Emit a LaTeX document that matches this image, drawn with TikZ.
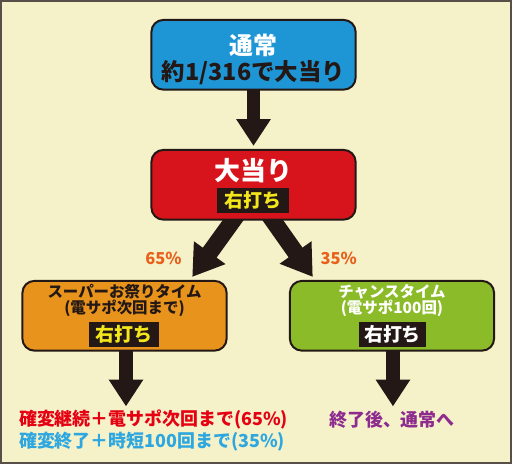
\documentclass[tikz,border=0pt]{standalone}
\usepackage{fontspec}
\setmainfont{Noto Sans CJK JP}
\usepackage{xcolor}
\usetikzlibrary{arrows.meta,positioning,shapes,calc}

\definecolor{bgcream}{HTML}{F5F2C9}
\definecolor{framegray}{HTML}{5A4E48}
\definecolor{inkdark}{HTML}{231815}
\definecolor{tsujoblue}{HTML}{1E96D5}
\definecolor{atarired}{HTML}{D7141B}
\definecolor{matsuriorange}{HTML}{E8931B}
\definecolor{chancegreen}{HTML}{8CBB2A}
\definecolor{tagyellow}{HTML}{F3E61B}
\definecolor{pctorange}{HTML}{E8601C}
\definecolor{kakuhenred}{HTML}{E50012}
\definecolor{jitanblue}{HTML}{2EA7E0}
\definecolor{endpurple}{HTML}{8E2B8F}

\pgfdeclarelayer{back}
\pgfsetlayers{back,main}

\newcommand{\fsz}[1]{\fontsize{#1}{#1}\selectfont\bfseries}

\begin{document}
\begin{tikzpicture}[
    x=1pt, y=-1pt,
    box/.style={rectangle, rounded corners=12pt, draw=inkdark, line width=2pt, minimum width=205pt, minimum height=70pt},
    tag/.style={rectangle, fill=inkdark, inner sep=0pt, minimum height=25pt, font=\fsz{19}},
    arrow/.style={-{Triangle[width=33pt,length=27pt]}, line width=14pt, draw=inkdark},
    diagarrow/.style={-{Triangle[width=37pt,length=30pt]}, line width=17pt, draw=inkdark},
    pct/.style={font=\fsz{16.5}, text=pctorange}
]
    % Tsujo
    \node[box, fill=tsujoblue] (tsujo) at (253.5,54) {};
    \node[font=\fsz{24}, text=white] (tsujotitle) at (253.5,45) {通常};
    \node[font=\fsz{23.5}, text=inkdark] (tsujoprob) at (253.5,72) {約1/316で大当り};

    % Oatari
    \node[box, fill=atarired] (atari) at (253.5,184.5) {};
    \node[font=\fsz{26}, text=white] (atarititle) at (253.5,170) {大当り};
    \node[tag, minimum width=72pt, text=tagyellow] (ataritag) at (253,200) {右打ち};

    % Super omatsuri time
    \node[box, fill=matsuriorange] (matsuri) at (124,316) {};
    \node[font=\fsz{15.5}, text=inkdark] (matsurititle) at (124,292) {スーパーお祭りタイム};
    \node[font=\fsz{15.5}, text=inkdark] (matsurisub) at (124,309) {(電サポ次回まで)};
    \node[tag, minimum width=71pt, text=tagyellow] (matsuritag) at (123.5,335) {右打ち};

    % Chance time
    \node[box, fill=chancegreen] (chance) at (392.5,316) {};
    \node[font=\fsz{15.5}, text=white] (chancetitle) at (392.5,292) {チャンスタイム};
    \node[font=\fsz{15.5}, text=white] (chancesub) at (392.5,309) {(電サポ100回)};
    \node[tag, minimum width=68pt, text=white] (chancetag) at (393,335) {右打ち};

    % Results
    \node[font=\fsz{18}, text=kakuhenred, anchor=west, inner sep=0pt] (keizoku) at (18,420) {確変継続＋電サポ次回まで(65\%)};
    \node[font=\fsz{18}, text=jitanblue, anchor=west, inner sep=0pt] (shuryo) at (18,442) {確変終了＋時短100回まで(35\%)};
    \node[font=\fsz{18}, text=endpurple, inner sep=0pt] (tsujoback) at (392.5,420) {終了後、通常へ};

    \coordinate (keizokutip) at (125.5,407);
    \coordinate (tsujobacktip) at (393.5,407);

    % Background, frame and arrows
    \begin{pgfonlayer}{back}
    \fill[bgcream] (0,0) rectangle (512,464);
    \draw[framegray, line width=2pt] (0,0) rectangle (512,464);
    \draw[arrow] ([yshift=4pt]tsujo.south) -- ([yshift=3pt]atari.north);
    \draw[diagarrow] ([xshift=-15pt,yshift=8pt]atari.south) -- ([xshift=68pt,yshift=3pt]matsuri.north);
    \draw[diagarrow] ([xshift=14pt,yshift=8pt]atari.south) -- ([xshift=-79.5pt,yshift=3pt]chance.north);
    \draw[arrow] ([xshift=1.5pt,yshift=4pt]matsuri.south) -- (keizokutip);
    \draw[arrow] ([xshift=1pt,yshift=4pt]chance.south) -- (tsujobacktip);
    \end{pgfonlayer}

    % Labels
    \node[pct] (pctleft) at (163,258) {65\%};
    \node[pct] (pctright) at (339,258) {35\%};
\end{tikzpicture}
\end{document}
